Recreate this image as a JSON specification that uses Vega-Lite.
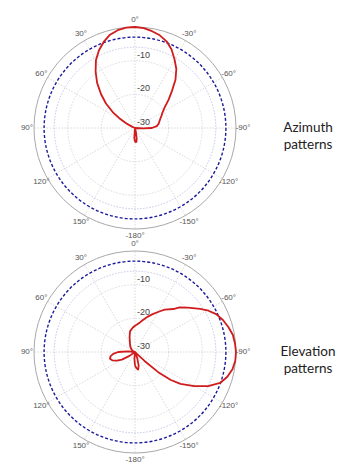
{
  "$schema": "https://vega.github.io/schema/vega-lite/v6.json",
  "padding": 0,
  "background": "white",
  "bounds": "flush",
  "spacing": 0,
  "config": {"view": {"stroke": null}},
  "datasets": {
    "spokes": [{"angle": 0}, {"angle": 30}, {"angle": 60}, {"angle": 90}, {"angle": 120}, {"angle": 150}, {"angle": 180}, {"angle": 210}, {"angle": 240}, {"angle": 270}, {"angle": 300}, {"angle": 330}],
    "rings": [{"level": -20, "kind": "grid"}, {"level": -10, "kind": "grid"}, {"level": -6, "kind": "minor"}, {"level": -3, "kind": "reference"}, {"level": 0, "kind": "outer"}],
    "anglelabels": [{"angle": 0, "label": "0°"}, {"angle": 30, "label": "30°"}, {"angle": 60, "label": "60°"}, {"angle": 90, "label": "90°"}, {"angle": 120, "label": "120°"}, {"angle": 150, "label": "150°"}, {"angle": 180, "label": "-180°"}, {"angle": -150, "label": "-150°"}, {"angle": -120, "label": "-120°"}, {"angle": -90, "label": "-90°"}, {"angle": -60, "label": "-60°"}, {"angle": -30, "label": "-30°"}],
    "dblabels": [{"level": -10, "label": "-10"}, {"level": -20, "label": "-20"}, {"level": -30, "label": "-30"}],
    "azimuth": [
      {"angle": -180, "db": -26}, {"angle": -177, "db": -25.8}, {"angle": -174, "db": -25.9}, {"angle": -171, "db": -26.8}, {"angle": -168, "db": -28.5}, {"angle": -165, "db": -30},
      {"angle": -120, "db": -30}, {"angle": -96, "db": -30}, {"angle": -93, "db": -27.5}, {"angle": -90, "db": -25}, {"angle": -85, "db": -23.5}, {"angle": -80, "db": -22.9}, {"angle": -75, "db": -22.5}, {"angle": -70, "db": -22}, {"angle": -65, "db": -21.3}, {"angle": -60, "db": -20.5}, {"angle": -55, "db": -19.2}, {"angle": -50, "db": -17}, {"angle": -45, "db": -14.5}, {"angle": -40, "db": -11.3}, {"angle": -35, "db": -8.6}, {"angle": -30, "db": -6.5}, {"angle": -25, "db": -4.3}, {"angle": -20, "db": -2.6}, {"angle": -15, "db": -1.5}, {"angle": -10, "db": -0.8}, {"angle": -5, "db": -0.2},
      {"angle": 0, "db": 0}, {"angle": 5, "db": -0.1}, {"angle": 10, "db": -0.5}, {"angle": 15, "db": -1.3}, {"angle": 20, "db": -2.8}, {"angle": 25, "db": -4.6}, {"angle": 30, "db": -6.8}, {"angle": 35, "db": -9.6}, {"angle": 40, "db": -12.5}, {"angle": 45, "db": -15.7}, {"angle": 50, "db": -18.8}, {"angle": 55, "db": -22.2}, {"angle": 58, "db": -24.5}, {"angle": 62, "db": -27}, {"angle": 66, "db": -29}, {"angle": 70, "db": -30},
      {"angle": 120, "db": -30}, {"angle": 172, "db": -30}, {"angle": 176, "db": -27}, {"angle": 180, "db": -26}
    ],
    "elevation": [
      {"angle": -180, "db": -26}, {"angle": -175, "db": -25.2}, {"angle": -170, "db": -24.7}, {"angle": -165, "db": -25.8}, {"angle": -160, "db": -28}, {"angle": -155, "db": -30},
      {"angle": -138, "db": -30}, {"angle": -135, "db": -29}, {"angle": -133, "db": -26}, {"angle": -131, "db": -21}, {"angle": -128, "db": -16.5}, {"angle": -125, "db": -13.5}, {"angle": -120, "db": -9.7}, {"angle": -115, "db": -6}, {"angle": -110, "db": -3.1}, {"angle": -105, "db": -1.6}, {"angle": -100, "db": -0.6}, {"angle": -95, "db": -0.1},
      {"angle": -90, "db": 0}, {"angle": -85, "db": -0.2}, {"angle": -80, "db": -0.5}, {"angle": -75, "db": -1.3}, {"angle": -70, "db": -2.2}, {"angle": -65, "db": -3.4}, {"angle": -60, "db": -5.2}, {"angle": -56.5, "db": -6.8}, {"angle": -50, "db": -9.5}, {"angle": -45, "db": -11.3}, {"angle": -41.7, "db": -12.9}, {"angle": -35, "db": -14.6}, {"angle": -31.5, "db": -15.8}, {"angle": -25, "db": -17.6}, {"angle": -20, "db": -18.8}, {"angle": -14.4, "db": -20.1}, {"angle": -10, "db": -21}, {"angle": -3.5, "db": -21.9},
      {"angle": 0, "db": -22.2}, {"angle": 5, "db": -22.7}, {"angle": 13.6, "db": -23.7}, {"angle": 20, "db": -25.3}, {"angle": 30, "db": -27}, {"angle": 40, "db": -27.8}, {"angle": 50, "db": -28.5}, {"angle": 60, "db": -29}, {"angle": 70, "db": -29.5}, {"angle": 80, "db": -30},
      {"angle": 85, "db": -28}, {"angle": 90, "db": -25}, {"angle": 95, "db": -23.5}, {"angle": 100, "db": -22.6}, {"angle": 105, "db": -22.3}, {"angle": 110, "db": -22.8}, {"angle": 115, "db": -24}, {"angle": 120, "db": -25.5}, {"angle": 125, "db": -28}, {"angle": 130, "db": -30},
      {"angle": 170, "db": -30}, {"angle": 175, "db": -28}, {"angle": 180, "db": -26}
    ]
  },
  "vconcat": [
    {
      "width": 270,
      "height": 224,
      "layer": [
        {
          "data": {"name": "spokes"},
          "transform": [
            {"calculate": "0", "as": "cx"},
            {"calculate": "0", "as": "cy"},
            {"calculate": "-30 * sin(datum.angle * PI / 180)", "as": "ex"},
            {"calculate": "30 * cos(datum.angle * PI / 180)", "as": "ey"}
          ],
          "mark": {"type": "rule", "color": "#cfcfcf", "strokeWidth": 0.8, "strokeDash": [1.5, 1.5]},
          "encoding": {
            "x": {"field": "cx", "type": "quantitative", "scale": {"domain": [-40.1, 40.1], "nice": false, "zero": false}, "axis": null},
            "y": {"field": "cy", "type": "quantitative", "scale": {"domain": [-28.51, 38.02], "nice": false, "zero": false}, "axis": null},
            "x2": {"field": "ex"},
            "y2": {"field": "ey"}
          }
        },
        {
          "data": {"name": "rings"},
          "transform": [{"filter": "datum.kind === 'grid'"}, {"calculate": "datum.level + 30", "as": "r"}, {"calculate": "0", "as": "cx"}, {"calculate": "0", "as": "cy"}],
          "mark": {"type": "point", "shape": "circle", "filled": false, "opacity": 1, "color": "#cfcfd8", "strokeWidth": 0.8, "strokeDash": [1.5, 1.5]},
          "encoding": {
            "x": {"field": "cx", "type": "quantitative", "scale": {"domain": [-40.1, 40.1], "nice": false, "zero": false}, "axis": null},
            "y": {"field": "cy", "type": "quantitative", "scale": {"domain": [-28.51, 38.02], "nice": false, "zero": false}, "axis": null},
            "size": {"field": "r", "type": "quantitative", "scale": {"type": "pow", "exponent": 2, "domain": [0, 30], "range": [0, 40804]}, "legend": null}
          }
        },
        {
          "data": {"name": "rings"},
          "transform": [{"filter": "datum.kind === 'minor'"}, {"calculate": "datum.level + 30", "as": "r"}, {"calculate": "0", "as": "cx"}, {"calculate": "0", "as": "cy"}],
          "mark": {"type": "point", "shape": "circle", "filled": false, "opacity": 1, "color": "#b4b8e0", "strokeWidth": 0.8, "strokeDash": [1.5, 1.5]},
          "encoding": {
            "x": {"field": "cx", "type": "quantitative", "scale": {"domain": [-40.1, 40.1], "nice": false, "zero": false}, "axis": null},
            "y": {"field": "cy", "type": "quantitative", "scale": {"domain": [-28.51, 38.02], "nice": false, "zero": false}, "axis": null},
            "size": {"field": "r", "type": "quantitative", "scale": {"type": "pow", "exponent": 2, "domain": [0, 30], "range": [0, 40804]}, "legend": null}
          }
        },
        {
          "data": {"name": "rings"},
          "transform": [{"filter": "datum.kind === 'reference'"}, {"calculate": "datum.level + 30", "as": "r"}, {"calculate": "0", "as": "cx"}, {"calculate": "0", "as": "cy"}],
          "mark": {"type": "point", "shape": "circle", "filled": false, "opacity": 1, "color": "#1b1b9a", "strokeWidth": 1.4, "strokeDash": [3, 2]},
          "encoding": {
            "x": {"field": "cx", "type": "quantitative", "scale": {"domain": [-40.1, 40.1], "nice": false, "zero": false}, "axis": null},
            "y": {"field": "cy", "type": "quantitative", "scale": {"domain": [-28.51, 38.02], "nice": false, "zero": false}, "axis": null},
            "size": {"field": "r", "type": "quantitative", "scale": {"type": "pow", "exponent": 2, "domain": [0, 30], "range": [0, 40804]}, "legend": null}
          }
        },
        {
          "data": {"name": "rings"},
          "transform": [{"filter": "datum.kind === 'outer'"}, {"calculate": "datum.level + 30", "as": "r"}, {"calculate": "0", "as": "cx"}, {"calculate": "0", "as": "cy"}],
          "mark": {"type": "point", "shape": "circle", "filled": false, "opacity": 1, "color": "#a8a8a8", "strokeWidth": 1},
          "encoding": {
            "x": {"field": "cx", "type": "quantitative", "scale": {"domain": [-40.1, 40.1], "nice": false, "zero": false}, "axis": null},
            "y": {"field": "cy", "type": "quantitative", "scale": {"domain": [-28.51, 38.02], "nice": false, "zero": false}, "axis": null},
            "size": {"field": "r", "type": "quantitative", "scale": {"type": "pow", "exponent": 2, "domain": [0, 30], "range": [0, 40804]}, "legend": null}
          }
        },
        {
          "data": {"name": "azimuth"},
          "transform": [
            {"calculate": "max(datum.db + 30, 0)", "as": "r"},
            {"calculate": "-datum.r * sin(datum.angle * PI / 180)", "as": "px"},
            {"calculate": "datum.r * cos(datum.angle * PI / 180)", "as": "py"}
          ],
          "mark": {"type": "line", "color": "#d01c1c", "strokeWidth": 1.8, "strokeJoin": "round"},
          "encoding": {
            "x": {"field": "px", "type": "quantitative", "scale": {"domain": [-40.1, 40.1], "nice": false, "zero": false}, "axis": null},
            "y": {"field": "py", "type": "quantitative", "scale": {"domain": [-28.51, 38.02], "nice": false, "zero": false}, "axis": null},
            "order": {"field": "angle", "type": "quantitative"}
          }
        },
        {
          "data": {"name": "anglelabels"},
          "transform": [
            {"calculate": "-32.1 * sin(datum.angle * PI / 180)", "as": "lx"},
            {"calculate": "32.1 * cos(datum.angle * PI / 180)", "as": "ly"}
          ],
          "mark": {"type": "text", "font": "Liberation Sans", "fontSize": 8, "color": "#555555", "align": "center", "baseline": "middle"},
          "encoding": {
            "x": {"field": "lx", "type": "quantitative", "scale": {"domain": [-40.1, 40.1], "nice": false, "zero": false}, "axis": null},
            "y": {"field": "ly", "type": "quantitative", "scale": {"domain": [-28.51, 38.02], "nice": false, "zero": false}, "axis": null},
            "text": {"field": "label", "type": "nominal"}
          }
        },
        {
          "data": {"name": "dblabels"},
          "transform": [{"calculate": "datum.level + 30", "as": "r"}, {"calculate": "0", "as": "cx"}],
          "mark": {"type": "text", "font": "Liberation Sans", "fontSize": 9, "color": "#444444", "align": "left", "baseline": "bottom", "dx": 2, "dy": -1},
          "encoding": {
            "x": {"field": "cx", "type": "quantitative", "scale": {"domain": [-40.1, 40.1], "nice": false, "zero": false}, "axis": null},
            "y": {"field": "r", "type": "quantitative", "scale": {"domain": [-28.51, 38.02], "nice": false, "zero": false}, "axis": null},
            "text": {"field": "label", "type": "nominal"}
          }
        },
        {
          "data": {"values": [{"title": "Azimuth\npatterns"}]},
          "transform": [{"calculate": "51.4", "as": "tx"}, {"calculate": "0", "as": "ty"}],
          "mark": {"type": "text", "font": "Lato", "fontSize": 13.5, "color": "#222222", "align": "center", "baseline": "middle", "lineBreak": "\n", "lineHeight": 17},
          "encoding": {
            "x": {"field": "tx", "type": "quantitative", "scale": {"domain": [-40.1, 40.1], "nice": false, "zero": false}, "axis": null},
            "y": {"field": "ty", "type": "quantitative", "scale": {"domain": [-28.51, 38.02], "nice": false, "zero": false}, "axis": null},
            "text": {"field": "title", "type": "nominal"}
          }
        }
      ]
    },
    {
      "width": 270,
      "height": 224,
      "layer": [
        {
          "data": {"name": "spokes"},
          "transform": [
            {"calculate": "0", "as": "cx"},
            {"calculate": "0", "as": "cy"},
            {"calculate": "-30 * sin(datum.angle * PI / 180)", "as": "ex"},
            {"calculate": "30 * cos(datum.angle * PI / 180)", "as": "ey"}
          ],
          "mark": {"type": "rule", "color": "#cfcfcf", "strokeWidth": 0.8, "strokeDash": [1.5, 1.5]},
          "encoding": {
            "x": {"field": "cx", "type": "quantitative", "scale": {"domain": [-40.1, 40.1], "nice": false, "zero": false}, "axis": null},
            "y": {"field": "cy", "type": "quantitative", "scale": {"domain": [-28.51, 38.02], "nice": false, "zero": false}, "axis": null},
            "x2": {"field": "ex"},
            "y2": {"field": "ey"}
          }
        },
        {
          "data": {"name": "rings"},
          "transform": [{"filter": "datum.kind === 'grid'"}, {"calculate": "datum.level + 30", "as": "r"}, {"calculate": "0", "as": "cx"}, {"calculate": "0", "as": "cy"}],
          "mark": {"type": "point", "shape": "circle", "filled": false, "opacity": 1, "color": "#cfcfd8", "strokeWidth": 0.8, "strokeDash": [1.5, 1.5]},
          "encoding": {
            "x": {"field": "cx", "type": "quantitative", "scale": {"domain": [-40.1, 40.1], "nice": false, "zero": false}, "axis": null},
            "y": {"field": "cy", "type": "quantitative", "scale": {"domain": [-28.51, 38.02], "nice": false, "zero": false}, "axis": null},
            "size": {"field": "r", "type": "quantitative", "scale": {"type": "pow", "exponent": 2, "domain": [0, 30], "range": [0, 40804]}, "legend": null}
          }
        },
        {
          "data": {"name": "rings"},
          "transform": [{"filter": "datum.kind === 'minor'"}, {"calculate": "datum.level + 30", "as": "r"}, {"calculate": "0", "as": "cx"}, {"calculate": "0", "as": "cy"}],
          "mark": {"type": "point", "shape": "circle", "filled": false, "opacity": 1, "color": "#b4b8e0", "strokeWidth": 0.8, "strokeDash": [1.5, 1.5]},
          "encoding": {
            "x": {"field": "cx", "type": "quantitative", "scale": {"domain": [-40.1, 40.1], "nice": false, "zero": false}, "axis": null},
            "y": {"field": "cy", "type": "quantitative", "scale": {"domain": [-28.51, 38.02], "nice": false, "zero": false}, "axis": null},
            "size": {"field": "r", "type": "quantitative", "scale": {"type": "pow", "exponent": 2, "domain": [0, 30], "range": [0, 40804]}, "legend": null}
          }
        },
        {
          "data": {"name": "rings"},
          "transform": [{"filter": "datum.kind === 'reference'"}, {"calculate": "datum.level + 30", "as": "r"}, {"calculate": "0", "as": "cx"}, {"calculate": "0", "as": "cy"}],
          "mark": {"type": "point", "shape": "circle", "filled": false, "opacity": 1, "color": "#1b1b9a", "strokeWidth": 1.4, "strokeDash": [3, 2]},
          "encoding": {
            "x": {"field": "cx", "type": "quantitative", "scale": {"domain": [-40.1, 40.1], "nice": false, "zero": false}, "axis": null},
            "y": {"field": "cy", "type": "quantitative", "scale": {"domain": [-28.51, 38.02], "nice": false, "zero": false}, "axis": null},
            "size": {"field": "r", "type": "quantitative", "scale": {"type": "pow", "exponent": 2, "domain": [0, 30], "range": [0, 40804]}, "legend": null}
          }
        },
        {
          "data": {"name": "rings"},
          "transform": [{"filter": "datum.kind === 'outer'"}, {"calculate": "datum.level + 30", "as": "r"}, {"calculate": "0", "as": "cx"}, {"calculate": "0", "as": "cy"}],
          "mark": {"type": "point", "shape": "circle", "filled": false, "opacity": 1, "color": "#a8a8a8", "strokeWidth": 1},
          "encoding": {
            "x": {"field": "cx", "type": "quantitative", "scale": {"domain": [-40.1, 40.1], "nice": false, "zero": false}, "axis": null},
            "y": {"field": "cy", "type": "quantitative", "scale": {"domain": [-28.51, 38.02], "nice": false, "zero": false}, "axis": null},
            "size": {"field": "r", "type": "quantitative", "scale": {"type": "pow", "exponent": 2, "domain": [0, 30], "range": [0, 40804]}, "legend": null}
          }
        },
        {
          "data": {"name": "elevation"},
          "transform": [
            {"calculate": "max(datum.db + 30, 0)", "as": "r"},
            {"calculate": "-datum.r * sin(datum.angle * PI / 180)", "as": "px"},
            {"calculate": "datum.r * cos(datum.angle * PI / 180)", "as": "py"}
          ],
          "mark": {"type": "line", "color": "#d01c1c", "strokeWidth": 1.8, "strokeJoin": "round"},
          "encoding": {
            "x": {"field": "px", "type": "quantitative", "scale": {"domain": [-40.1, 40.1], "nice": false, "zero": false}, "axis": null},
            "y": {"field": "py", "type": "quantitative", "scale": {"domain": [-28.51, 38.02], "nice": false, "zero": false}, "axis": null},
            "order": {"field": "angle", "type": "quantitative"}
          }
        },
        {
          "data": {"name": "anglelabels"},
          "transform": [
            {"calculate": "-32.1 * sin(datum.angle * PI / 180)", "as": "lx"},
            {"calculate": "32.1 * cos(datum.angle * PI / 180)", "as": "ly"}
          ],
          "mark": {"type": "text", "font": "Liberation Sans", "fontSize": 8, "color": "#555555", "align": "center", "baseline": "middle"},
          "encoding": {
            "x": {"field": "lx", "type": "quantitative", "scale": {"domain": [-40.1, 40.1], "nice": false, "zero": false}, "axis": null},
            "y": {"field": "ly", "type": "quantitative", "scale": {"domain": [-28.51, 38.02], "nice": false, "zero": false}, "axis": null},
            "text": {"field": "label", "type": "nominal"}
          }
        },
        {
          "data": {"name": "dblabels"},
          "transform": [{"calculate": "datum.level + 30", "as": "r"}, {"calculate": "0", "as": "cx"}],
          "mark": {"type": "text", "font": "Liberation Sans", "fontSize": 9, "color": "#444444", "align": "left", "baseline": "bottom", "dx": 2, "dy": -1},
          "encoding": {
            "x": {"field": "cx", "type": "quantitative", "scale": {"domain": [-40.1, 40.1], "nice": false, "zero": false}, "axis": null},
            "y": {"field": "r", "type": "quantitative", "scale": {"domain": [-28.51, 38.02], "nice": false, "zero": false}, "axis": null},
            "text": {"field": "label", "type": "nominal"}
          }
        },
        {
          "data": {"values": [{"title": "Elevation\npatterns"}]},
          "transform": [{"calculate": "51.4", "as": "tx"}, {"calculate": "0", "as": "ty"}],
          "mark": {"type": "text", "font": "Lato", "fontSize": 13.5, "color": "#222222", "align": "center", "baseline": "middle", "lineBreak": "\n", "lineHeight": 17},
          "encoding": {
            "x": {"field": "tx", "type": "quantitative", "scale": {"domain": [-40.1, 40.1], "nice": false, "zero": false}, "axis": null},
            "y": {"field": "ty", "type": "quantitative", "scale": {"domain": [-28.51, 38.02], "nice": false, "zero": false}, "axis": null},
            "text": {"field": "title", "type": "nominal"}
          }
        }
      ]
    }
  ]
}
